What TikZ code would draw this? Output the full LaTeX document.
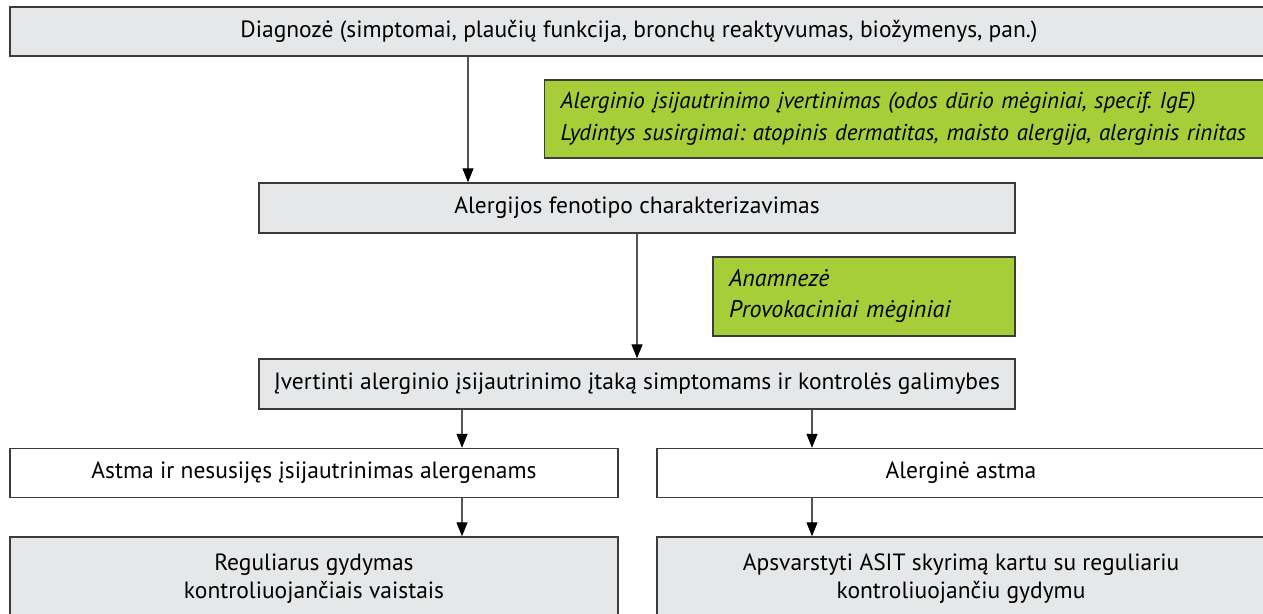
\documentclass[tikz,border=0pt]{standalone}
\usepackage{fontspec}
\setmainfont{PT Sans}
\usetikzlibrary{arrows.meta}
\frenchspacing
\definecolor{boxgray}{HTML}{E6E7E8}
\definecolor{boxgreen}{HTML}{A6CE39}
\definecolor{edgegray}{HTML}{3C3C3C}
\definecolor{arrgray}{HTML}{555555}
\tikzset{
  stepbox/.style={draw=edgegray,line width=1.4pt,fill=boxgray,minimum height=49pt,inner sep=0pt,align=center,font=\fontsize{23.5}{29}\selectfont},
  plainbox/.style={stepbox,fill=white},
  notebox/.style={draw=edgegray,line width=1.4pt,fill=boxgreen,inner xsep=16pt,inner ysep=0pt,align=left,font=\fontsize{23}{32}\selectfont\itshape},
  arr/.style={draw=arrgray,line width=1.3pt,-{Triangle[width=11pt,length=14pt,fill=black,color=black]}}
}
\begin{document}
\begin{tikzpicture}[x=1pt,y=-1pt]
    \useasboundingbox (0,0) rectangle (1263,613);
    \clip (0,0) rectangle (1263,613);
    \fill[white] (0,0) rectangle (1263,613);
    \node[stepbox,minimum width=1258pt] (diag) at (639,31.5) {Diagnozė (simptomai, plaučių funkcija, bronchų reaktyvumas, biožymenys, pan.)};
    \node[notebox,anchor=west,minimum width=760pt,minimum height=78pt,text width=728pt] (sens) at (544,119) {Alerginio įsijautrinimo įvertinimas (odos dūrio mėginiai, specif. IgE)\\Lydintys susirgimai: atopinis dermatitas, maisto alergija, alerginis rinitas};
    \node[stepbox,minimum width=756pt,minimum height=50pt] (pheno) at (637,208) {Alergijos fenotipo charakterizavimas};
    \node[notebox,minimum width=302pt,minimum height=79pt,text width=270pt,font=\fontsize{24}{31}\selectfont\itshape] (hist) at (864,296.5) {Anamnezė\\Provokaciniai mėginiai};
    \node[stepbox,minimum width=756pt,minimum height=50pt] (impact) at (637,384) {Įvertinti alerginio įsijautrinimo įtaką simptomams ir kontrolės galimybes};
    \node[plainbox,minimum width=608pt] (nonall) at (314,473) {Astma ir nesusijęs įsijautrinimas alergenams};
    \node[plainbox,minimum width=608pt] (allasth) at (961,473) {Alerginė astma};
    \node[stepbox,minimum width=608pt,minimum height=84pt,font=\fontsize{23.5}{28}\selectfont] (regtx) at (314,579) {Reguliarus gydymas\\kontroliuojančiais vaistais};
    \node[stepbox,minimum width=608pt,minimum height=84pt,font=\fontsize{23.5}{28}\selectfont] (asit) at (961,579) {Apsvarstyti ASIT skyrimą kartu su reguliariu\\kontroliuojančiu gydymu};
    \coordinate (colA) at (468,0);
    \coordinate (colB) at (462,0);
    \coordinate (colC) at (812,0);
    \draw[arr] (diag.south -| colA) -- (pheno.north -| colA);
    \draw[arr] (pheno.south) -- (impact.north);
    \draw[arr] (impact.south -| colB) -- (nonall.north -| colB);
    \draw[arr] (impact.south -| colC) -- (allasth.north -| colC);
    \draw[arr] (nonall.south -| colB) -- (regtx.north -| colB);
    \draw[arr] (allasth.south -| colC) -- (asit.north -| colC);
\end{tikzpicture}
\end{document}
